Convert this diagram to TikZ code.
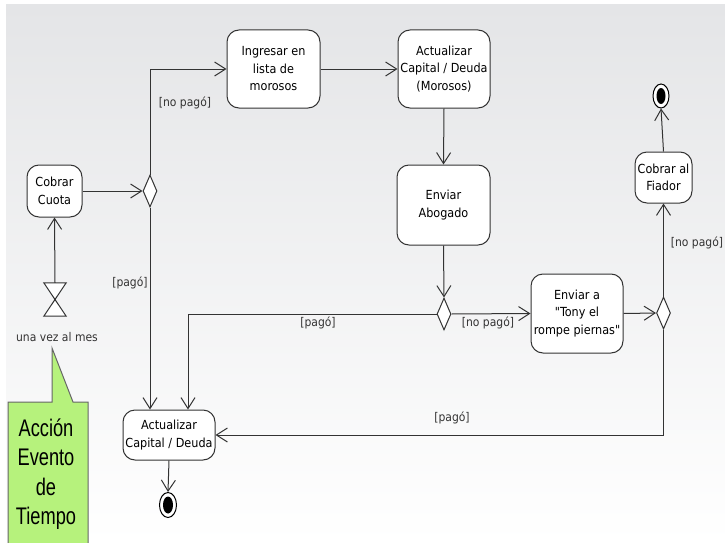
\documentclass[tikz,border=0pt]{standalone}
\usepackage{fontspec}
\setmainfont{DejaVu Sans Condensed}
\newfontfamily\notefont[FakeStretch=0.76]{Liberation Sans}
\usetikzlibrary{shapes.geometric,arrows.meta,positioning,calc}
\definecolor{linec}{HTML}{333333}
\definecolor{notegreen}{HTML}{B6F27C}
\definecolor{bgtop}{HTML}{E4E5E7}
\tikzset{
  act/.style={draw=linec, line width=1pt, fill=white, rounded corners=12pt, align=center,
    inner sep=1pt, font=\fontsize{12.5}{17.5}\selectfont},
  dec/.style={draw=linec, line width=1pt, fill=white, diamond, inner sep=0pt,
    minimum width=14pt, minimum height=32pt},
  flow/.style={draw=linec, line width=1pt, -{Straight Barb[length=11pt,width=14pt,line width=1pt]}},
  guard/.style={font=\fontsize{12}{14}\selectfont, text=linec},
}
\begin{document}
\begin{tikzpicture}[x=1pt,y=-1pt]
\useasboundingbox (0,0) rectangle (725,543);
\shade[top color=bgtop, bottom color=white] (6,5) rectangle (725,543);

% nodes
\node[act, minimum width=55pt, minimum height=52pt] (cc) at (54.5,191) {Cobrar\\Cuota};
\node[dec] (d1) at (150,191) {};
\node[minimum width=22pt, minimum height=33pt, inner sep=0pt] (hg) at (55,299.5) {};
\node[guard, text=black!80] (hgl) at (57,337) {una vez al mes};
\node[act, minimum width=93pt, minimum height=78pt] (im) at (273.5,69) {Ingresar en\\lista de\\morosos};
\node[act, minimum width=92pt, minimum height=78pt] (am) at (444,69) {Actualizar\\Capital / Deuda\\(Morosos)};
\node[act, minimum width=93pt, minimum height=80pt] (ea) at (443.5,205) {Enviar\\Abogado};
\node[dec] (d2) at (444,314) {};
\node[act, minimum width=92pt, minimum height=79pt] (et) at (577,313.5) {Enviar a\\\textquotedbl Tony el\\rompe piernas\textquotedbl};
\node[dec] (d3) at (663.5,313) {};
\node[act, minimum width=57pt, minimum height=51pt] (cf) at (663.5,177.5) {Cobrar al\\Fiador};
\node[act, minimum width=92pt, minimum height=50pt] (acd) at (169,435) {Actualizar\\Capital / Deuda};
\node[draw=black, line width=1pt, fill=white, ellipse, minimum width=16pt, minimum height=24pt, inner sep=0pt] (f1) at (661,96) {};
\fill[black] (f1.center) ellipse [x radius=4.5pt, y radius=8pt];
\node[draw=black, line width=1pt, fill=white, ellipse, minimum width=17pt, minimum height=25pt, inner sep=0pt] (f2) at (168,505) {};
\fill[black] (f2.center) ellipse [x radius=5pt, y radius=8.5pt];

% hourglass
\draw[linec, line width=1pt, fill=white] (hg.north west) -- (hg.north east) -- (hg.south west) -- (hg.south east) -- cycle;

% note
\draw[draw=black!60, line width=1pt, fill=notegreen] (8,545) -- (8,402) -- (52,402) -- (52,348) -- (73,402) -- (88,402) -- (88,545);
\node[font=\notefont\fontsize{24}{29.5}\selectfont, align=center, text=black] (note) at (46,474) {Acción\\Evento\\de\\Tiempo};

% connectors
\draw[flow] (hg.north) -- (cc.south);
\draw[flow] (cc.east) -- (d1.west);
\draw[flow] (d1.north) |- (im.west);
\draw[flow] (d1.south) -- (d1.south |- acd.north);
\draw[flow] (im.east) -- (am.west);
\draw[flow] (am.south) -- (ea.north);
\draw[flow] (ea.south) -- (d2.north);
\draw[flow] (d2.east) -- (et.west);
\draw[flow] (d2.west) -| ([xshift=19pt]acd.north);
\draw[flow] (et.east) -- (d3.west);
\draw[flow] (d3.north) -- (cf.south);
\draw[flow] (cf.north) -- (f1.south);
\draw[flow] (d3.south) |- (acd.east);
\draw[flow] (acd.south) -- (f2.north);

% guards
\node[guard] (g1) at (185,103) {[no pagó]};
\node[guard] (g2) at (130,283) {[pagó]};
\node[guard] (g3) at (318,323) {[pagó]};
\node[guard] (g4) at (488,323) {[no pagó]};
\node[guard] (g5) at (697,243) {[no pagó]};
\node[guard] (g6) at (452,418) {[pagó]};
\end{tikzpicture}
\end{document}
